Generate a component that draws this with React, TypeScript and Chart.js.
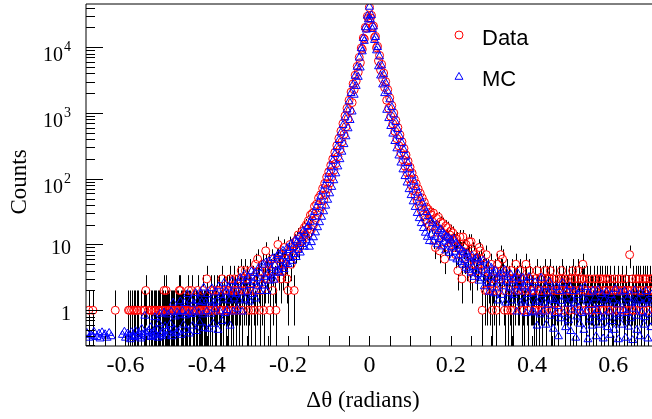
import React, { useEffect, useRef } from 'react';
import { Chart, registerables } from 'chart.js';

Chart.register(...registerables);

// Histogram binning (bin centres)
const BIN_WIDTH = 0.0025;
const FIRST_BIN_CENTER = -0.695;

// ---- Data (counts) ----
// -0.695 .. -0.4025
const dataLeftTail = [
  0, 0, 1, 0, 0, 0, 1, 0, 0, 0,
  0, 0, 0, 0, 0, 0, 0, 0, 0, 0,
  0, 0, 0, 0, 0, 0, 0, 0, 1, 0,
  0, 0, 0, 0, 0, 0, 0, 0, 0, 0,
  0, 1, 1, 0, 1, 0, 1, 1, 0, 1,
  1, 0, 0, 1, 0, 0, 1, 1, 2, 0,
  0, 1, 0, 1, 1, 0, 1, 1, 1, 0,
  1, 1, 1, 0, 1, 1, 2, 1, 2, 1,
  1, 1, 0, 1, 1, 1, 1, 0, 1, 1,
  1, 2, 2, 1, 1, 1, 0, 1, 1, 1,
  2, 1, 1, 2, 1, 1, 0, 1, 1, 2,
  1, 1, 1, 1, 2, 1, 1, 1,
];
// -0.400 .. -0.1525
const dataLeftMid = [
  3, 1, 0, 1, 2, 1, 0, 2, 1, 1,
  2, 0, 2, 1, 1, 3, 1, 2, 0, 1,
  2, 1, 2, 3, 1, 2, 1, 3, 2, 1,
  2, 3, 1, 2, 4, 1, 3, 2, 4, 2,
  3, 1, 2, 4, 1, 3, 2, 1, 5, 2,
  6, 3, 1, 4, 2, 5, 1, 3, 8, 4,
  3, 5, 1, 4, 6, 2, 5, 3, 1, 6,
  10, 4, 7, 3, 6, 4, 9, 5, 6, 3,
  2, 8, 10, 5, 9, 7, 2, 11, 8, 12,
  14, 9, 13, 11, 16, 12, 18, 14, 20, 17,
];
// -0.150 .. 0.150
const dataCore = [
  23, 15, 28, 17, 30, 20, 38, 24, 41, 28,
  51, 32, 57, 38, 71, 47, 85, 57, 106, 70,
  128, 86, 160, 107, 200, 134, 252, 170, 320, 217,
  410, 280, 530, 363, 690, 473, 900, 618, 1180, 814,
  1560, 1080, 2080, 1440, 2780, 2260, 3750, 3060, 5100, 4180,
  7000, 5770, 9700, 9260, 13800, 13300, 20000, 19400, 29500, 27500,
  40000,
  27900, 30500, 20200, 21000, 14000, 14600, 9800, 10300, 6150, 7500,
  4500, 5500, 3300, 4050, 2440, 3000, 1560, 2260, 1180, 1700,
  890, 1300, 684, 1000, 526, 770, 408, 600, 317, 465,
  247, 365, 195, 290, 155, 230, 124, 185, 100, 150,
  81, 122, 66, 100, 55, 84, 46, 70, 39, 60,
  33, 51, 28, 44, 24, 37, 21, 34, 19, 31,
];
// 0.1525 .. 0.400
const dataRightMid = [
  28, 19, 30, 12, 9, 25, 17, 26, 8, 22,
  15, 21, 11, 6, 19, 13, 18, 9, 14, 16,
  10, 15, 12, 11, 7, 12, 4, 9, 13, 8,
  3, 13, 9, 6, 10, 5, 7, 11, 4, 11,
  3, 8, 7, 5, 6, 4, 5, 9, 8, 6,
  1, 4, 5, 2, 7, 2, 4, 3, 2, 5,
  1, 3, 2, 4, 1, 5, 2, 3, 7, 4,
  6, 2, 1, 3, 4, 1, 3, 2, 1, 4,
  1, 3, 2, 5, 3, 2, 2, 4, 3, 1,
  2, 1, 3, 5, 2, 1, 4, 3, 2, 2,
];
// 0.4025 .. 0.695
const dataRightTail = [
  2, 1, 3, 1, 4, 2, 1, 3, 2, 1,
  3, 2, 4, 1, 3, 2, 3, 4, 1, 2,
  3, 1, 2, 3, 2, 1, 3, 2, 4, 3,
  2, 1, 3, 2, 2, 3, 1, 2, 3, 4,
  2, 3, 1, 2, 4, 3, 2, 1, 3, 5,
  3, 2, 1, 3, 2, 1, 3, 2, 2, 1,
  3, 2, 1, 3, 2, 2, 3, 1, 3, 2,
  1, 3, 2, 3, 1, 2, 3, 2, 1, 2,
  3, 2, 1, 2, 3, 1, 2, 3, 2, 1,
  2, 3, 1, 2, 2, 7, 1, 2, 3, 1,
  2, 3, 1, 3, 2, 3, 1, 2, 3, 1,
  3, 2, 3, 1, 2, 3, 2, 3,
];

// ---- MC (normalised) ----
const mcLeftTail = [
  0.45, 0, 0.38, 0, 0.42, 0, 0.4, 0.47, 0, 0,
  0.39, 0, 0.44, 0.37, 0, 0.46, 0, 0.41, 0.43, 0,
  0.38, 0, 0.45, 0, 0.4, 0, 0, 0, 0, 0,
  0, 0, 0, 0, 0, 0.42, 0, 0.47, 0.38, 0,
  0.44, 0, 0.4, 0.36, 0.46, 0.41, 0, 0.39, 0.48, 0,
  0.4, 0.45, 0, 0.37, 0.52, 0.43, 0.4, 0.82, 0.46, 0,
  0.41, 0.48, 0.39, 0.55, 0.44, 0.4, 0.47, 0.78, 0.42, 0.5,
  0.38, 0.63, 0.88, 0.43, 0.46, 0.4, 0.92, 0.57, 0.41, 0.49,
  0.86, 0.44, 0.61, 0.95, 0.4, 1.3, 0.52, 0.8, 0.45, 0.93,
  0.47, 0.85, 1.36, 0.42, 0.97, 0.6, 1.28, 0.83, 0.5, 1.75,
  0.9, 0.44, 1.4, 0.87, 0.58, 1.25, 0.95, 1.82, 0.48, 1.38,
  0.92, 0.65, 1.78, 1.33, 0.86, 2.2, 0.53, 1.3,
];
const mcLeftMid = [
  0.96, 1.75, 0.52, 1.4, 0.88, 2.15, 0.62, 1.3, 1.05, 1.85,
  1.35, 0.5, 2.3, 0.95, 1.7, 0.68, 1.45, 2.6, 0.9, 1.9,
  1.0, 2.2, 1.4, 0.58, 1.8, 2.75, 0.95, 1.5, 2.35, 1.75,
  1.05, 2.65, 1.4, 3.1, 1.85, 0.95, 2.3, 3.5, 1.45, 2.8,
  1.9, 3.2, 1.35, 2.4, 3.9, 1.75, 2.7, 3.65, 1.5, 3.05,
  2.3, 4.4, 1.95, 3.6, 2.6, 4.9, 2.35, 3.2, 5.3, 1.95,
  3.5, 5.5, 2.8, 4.4, 3.25, 6.2, 2.9, 4.8, 3.7, 6.6,
  4.1, 7.1, 3.7, 5.8, 4.6, 8.0, 4.2, 6.6, 5.3, 8.8,
  5.0, 8.2, 6.2, 10.2, 5.6, 9.1, 7.1, 11.5, 6.4, 10.9,
  8.2, 13.2, 7.5, 12.4, 10.1, 16.0, 9.2, 14.6, 11.5, 18.5,
];
const mcCore = [
  19, 9.2, 22, 10.8, 26, 12.8, 31, 15.2, 37, 18.2,
  44, 21.7, 53, 26.2, 64, 31.8, 78, 38.7, 95, 47.6,
  118, 59.6, 148, 74.7, 186, 94.3, 236, 120, 300, 153,
  385, 197, 500, 256, 650, 334, 850, 439, 1120, 581,
  1490, 777, 2000, 1046, 2700, 1880, 3650, 2560, 5000, 3520,
  6900, 4880, 9600, 8600, 13700, 12400, 20000, 18400, 30000, 26300,
  41000,
  26500, 30500, 18800, 20500, 12800, 14200, 8900, 10000, 5100, 7200,
  3690, 5250, 2700, 3850, 1990, 2850, 1110, 2130, 830, 1600,
  629, 1220, 482, 940, 372, 725, 288, 565, 224, 440,
  175, 345, 138, 272, 109, 216, 87, 172, 69, 138,
  56, 111, 45, 90, 37, 74, 30, 61, 25, 51,
  21, 43, 17.7, 36, 15, 31, 13, 27, 11.2, 23,
];
const mcRightMid = [
  14, 21, 11, 18, 13, 20, 10, 16, 12, 17,
  9.3, 15, 11, 14, 8.1, 13, 10, 12.6, 7.4, 11.7,
  9.0, 6.3, 12.2, 7.7, 10.4, 5.9, 9.5, 6.8, 8.6, 5.4,
  8.1, 4.9, 7.6, 5.8, 4.4, 7.2, 4.1, 6.3, 5.3, 3.7,
  6.7, 4.5, 3.2, 5.9, 4.0, 6.2, 3.5, 2.8, 5.4, 4.6,
  3.1, 5.7, 2.3, 4.1, 3.5, 2.6, 4.9, 1.9, 3.2, 4.4,
  2.6, 3.7, 1.8, 4.0, 2.2, 3.1, 1.4, 3.5, 2.8, 1.7,
  3.6, 2.3, 4.1, 1.3, 2.7, 3.2, 1.8, 2.2, 3.5, 1.4,
  2.8, 1.7, 3.1, 2.3, 0.95, 3.6, 1.9, 2.6, 1.3, 2.2,
  3.1, 1.4, 2.3, 0.9, 2.7, 1.75, 3.2, 1.3, 2.2, 0.95,
];
const mcRightTail = [
  1.8, 0.92, 2.65, 1.33, 0.58, 2.2, 1.4, 0.86, 3.1, 1.75,
  0.95, 1.3, 2.3, 0.6, 1.85, 1.2, 2.7, 0.82, 1.5, 2.05,
  0.52, 1.42, 0.9, 2.25, 1.15, 0.4, 1.95, 0.75, 1.38, 2.6,
  0.88, 1.6, 0.55, 2.0, 1.25, 0.7, 2.3, 0.48, 1.45, 1.02,
  1.95, 1.3, 0.38, 0.8, 1.7, 1.1, 0.62, 2.1, 0.9, 1.5,
  0.5, 2.25, 0.95, 1.35, 0.36, 1.8, 0.72, 1.2, 0.58, 1.98,
  0.85, 1.55, 0.4, 1.0, 2.05, 1.28, 0.6, 0.78, 1.75, 0.37,
  1.45, 0.82, 1.9, 0.55, 1.3, 0.95, 0.42, 1.7, 0.68, 1.4,
  0.5, 2.1, 0.88, 1.22, 0.36, 0.8, 1.85, 0.6, 1.35, 1.0,
  1.95, 0.38, 0.9, 1.5, 0.56, 1.72, 0.75, 1.3, 0.35, 1.05,
  2.0, 1.35, 0.5, 0.82, 1.45, 0.4, 1.8, 0.92, 1.25, 0.6,
  0.78, 1.95, 1.4, 0.37, 0.88, 1.3, 0.55, 1.75,
];

const dataValues = [...dataLeftTail, ...dataLeftMid, ...dataCore, ...dataRightMid, ...dataRightTail];
const mcValues = [...mcLeftTail, ...mcLeftMid, ...mcCore, ...mcRightMid, ...mcRightTail];

// Axes
const X_MIN = -0.697;
const X_MAX = 0.695;
const Y_MIN = 0.286;
const Y_MAX = 45400;
const X_TICK_LABELS = [-0.6, -0.4, -0.2, 0, 0.2, 0.4, 0.6];
const X_MINOR_STEP = 0.05;
const Y_MAJOR = [1, 10, 100, 1000, 10000];
const Y_LABEL_BASE = ['1', '10', '10', '10', '10'];
const Y_LABEL_EXP = ['', '', '2', '3', '4'];
const LEGEND_LABELS = ['Data', 'MC'];
const X_TITLE = 'Δθ (radians)';
const Y_TITLE = 'Counts';

const RED = '#ff0000';
const BLUE = '#0000ff';
const SERIF = "'Liberation Serif', 'Times New Roman', serif";
const SANS = "'Liberation Sans', Arial, sans-serif";
const CIRCLE_R = 4;
const TRI_R = 4.6;

function toPoints(values: number[]) {
  return values.map((v, i) => ({
    x: +(FIRST_BIN_CENTER + i * BIN_WIDTH).toFixed(5),
    y: v > 0 ? v : null,
  }));
}

const rootPlugin = {
  id: 'rootStyle',
  beforeDatasetsDraw(chart: any) {
    const { ctx, chartArea: a, scales } = chart;
    const xs = scales.x;
    const ys = scales.y;
    ctx.save();
    ctx.beginPath();
    ctx.rect(a.left, a.top, a.right - a.left, a.bottom - a.top);
    ctx.clip();
    ctx.strokeStyle = '#000';
    ctx.lineWidth = 1;
    ctx.beginPath();
    dataValues.forEach((n, i) => {
      if (n <= 0) return;
      const xv = FIRST_BIN_CENTER + i * BIN_WIDTH;
      const px = Math.round(xs.getPixelForValue(xv)) + 0.5;
      const py = ys.getPixelForValue(n);
      const e = Math.sqrt(n);
      const pHi = ys.getPixelForValue(n + e);
      const pLo = n - e > 0 ? ys.getPixelForValue(n - e) : a.bottom;
      if (pHi < py - CIRCLE_R) {
        ctx.moveTo(px, pHi);
        ctx.lineTo(px, py - CIRCLE_R);
      }
      if (pLo > py + CIRCLE_R) {
        ctx.moveTo(px, py + CIRCLE_R);
        ctx.lineTo(px, pLo);
      }
    });
    ctx.stroke();
    ctx.restore();
  },
  afterDatasetsDraw(chart: any) {
    const { ctx, chartArea: a, scales } = chart;
    const xs = scales.x;
    const ys = scales.y;
    ctx.save();
    ctx.strokeStyle = '#000';
    ctx.lineWidth = 1;
    // frame lines
    ctx.beginPath();
    ctx.moveTo(a.left, a.top);
    ctx.lineTo(a.right, a.top);
    ctx.moveTo(a.left, a.top);
    ctx.lineTo(a.left, a.bottom);
    ctx.lineTo(a.right, a.bottom);
    ctx.stroke();
    // x ticks (inside)
    ctx.beginPath();
    for (let k = -14; k <= 14; k++) {
      const v = k * X_MINOR_STEP;
      if (v <= X_MIN || v >= X_MAX) continue;
      const px = Math.round(xs.getPixelForValue(v)) + 0.5;
      ctx.moveTo(px, a.bottom);
      ctx.lineTo(px, a.bottom - 10);
    }
    // y ticks (inside)
    for (let d = 0.1; d <= 1e5; d *= 10) {
      for (let m = 1; m <= 9; m++) {
        const v = m * d;
        if (v < Y_MIN || v > Y_MAX) continue;
        const py = Math.round(ys.getPixelForValue(v)) + 0.5;
        const len = m === 1 ? 17 : 9;
        ctx.moveTo(a.left, py);
        ctx.lineTo(a.left + len, py);
      }
    }
    ctx.stroke();

    // y tick labels
    ctx.fillStyle = '#000';
    ctx.textBaseline = 'alphabetic';
    ctx.textAlign = 'right';
    const rightX = 71;
    Y_MAJOR.forEach((v, i) => {
      const py = ys.getPixelForValue(v);
      const exp = Y_LABEL_EXP[i];
      if (!exp) {
        ctx.font = `20px ${SERIF}`;
        ctx.fillText(Y_LABEL_BASE[i], rightX, py + 10);
      } else {
        ctx.font = `14px ${SERIF}`;
        const w = ctx.measureText(exp).width;
        ctx.fillText(exp, rightX, py + 4);
        ctx.font = `20px ${SERIF}`;
        ctx.fillText(Y_LABEL_BASE[i], rightX - w - 1, py + 14);
      }
    });

    // axis titles
    ctx.font = `23px ${SERIF}`;
    ctx.textAlign = 'center';
    ctx.fillText(X_TITLE, 363, 407);
    ctx.save();
    ctx.translate(26, 182);
    ctx.rotate(-Math.PI / 2);
    ctx.fillText(Y_TITLE, 0, 0);
    ctx.restore();

    // legend
    ctx.lineWidth = 1;
    ctx.strokeStyle = RED;
    ctx.beginPath();
    ctx.arc(459, 35, CIRCLE_R, 0, Math.PI * 2);
    ctx.stroke();
    ctx.strokeStyle = BLUE;
    ctx.beginPath();
    const tx = 459, ty = 77;
    for (let k = 0; k < 3; k++) {
      const ang = k * (2 * Math.PI / 3);
      const x = tx + Math.sin(ang) * TRI_R;
      const y = ty - Math.cos(ang) * TRI_R;
      if (k === 0) ctx.moveTo(x, y); else ctx.lineTo(x, y);
    }
    ctx.closePath();
    ctx.stroke();
    ctx.fillStyle = '#000';
    ctx.font = `22px ${SANS}`;
    ctx.textAlign = 'left';
    ctx.fillText(LEGEND_LABELS[0], 482, 45);
    ctx.fillText(LEGEND_LABELS[1], 482, 86);
    ctx.restore();
  },
};

export default function App() {
  const canvasRef = useRef<HTMLCanvasElement | null>(null);

  useEffect(() => {
    const canvas = canvasRef.current;
    if (!canvas) return;
    const chart = new Chart(canvas, {
      type: 'scatter',
      data: {
        datasets: [
          {
            label: LEGEND_LABELS[1],
            data: toPoints(mcValues) as any,
            pointStyle: 'triangle',
            pointRadius: TRI_R,
            borderColor: BLUE,
            backgroundColor: 'rgba(0,0,0,0)',
            borderWidth: 1,
            order: 1,
          },
          {
            label: LEGEND_LABELS[0],
            data: toPoints(dataValues) as any,
            pointStyle: 'circle',
            pointRadius: CIRCLE_R,
            borderColor: RED,
            backgroundColor: 'rgba(0,0,0,0)',
            borderWidth: 1,
            order: 2,
          },
        ],
      },
      options: {
        responsive: false,
        animation: false,
        events: [],
        layout: { autoPadding: false, padding: { top: 4, right: 0, left: 0, bottom: 0 } },
        plugins: { legend: { display: false }, tooltip: { enabled: false } },
        scales: {
          x: {
            type: 'linear',
            min: X_MIN,
            max: X_MAX,
            grid: { display: false, drawTicks: false },
            border: { display: false },
            afterBuildTicks: (s: any) => {
              s.ticks = X_TICK_LABELS.map((v) => ({ value: v }));
            },
            ticks: {
              font: { family: SERIF, size: 24 },
              color: '#000',
              padding: 5,
              maxRotation: 0,
              autoSkip: false,
              callback: (v: any) => (Number(v) === 0 ? '0' : String(v)),
            },
            afterFit: (s: any) => {
              s.height = 73;
              s.paddingLeft = 0;
              s.paddingRight = 0;
            },
          },
          y: {
            type: 'logarithmic',
            min: Y_MIN,
            max: Y_MAX,
            grid: { display: false, drawTicks: false },
            border: { display: false },
            ticks: { display: false },
            afterFit: (s: any) => {
              s.width = 86;
              s.paddingTop = 0;
              s.paddingBottom = 0;
            },
          },
        },
      } as any,
      plugins: [rootPlugin],
    });
    return () => chart.destroy();
  }, []);

  return (
    <div style={{ position: 'fixed', left: 0, top: 0, width: 652, height: 419, background: '#fff' }}>
      <canvas ref={canvasRef} width={652} height={419} style={{ display: 'block' }} />
    </div>
  );
}
